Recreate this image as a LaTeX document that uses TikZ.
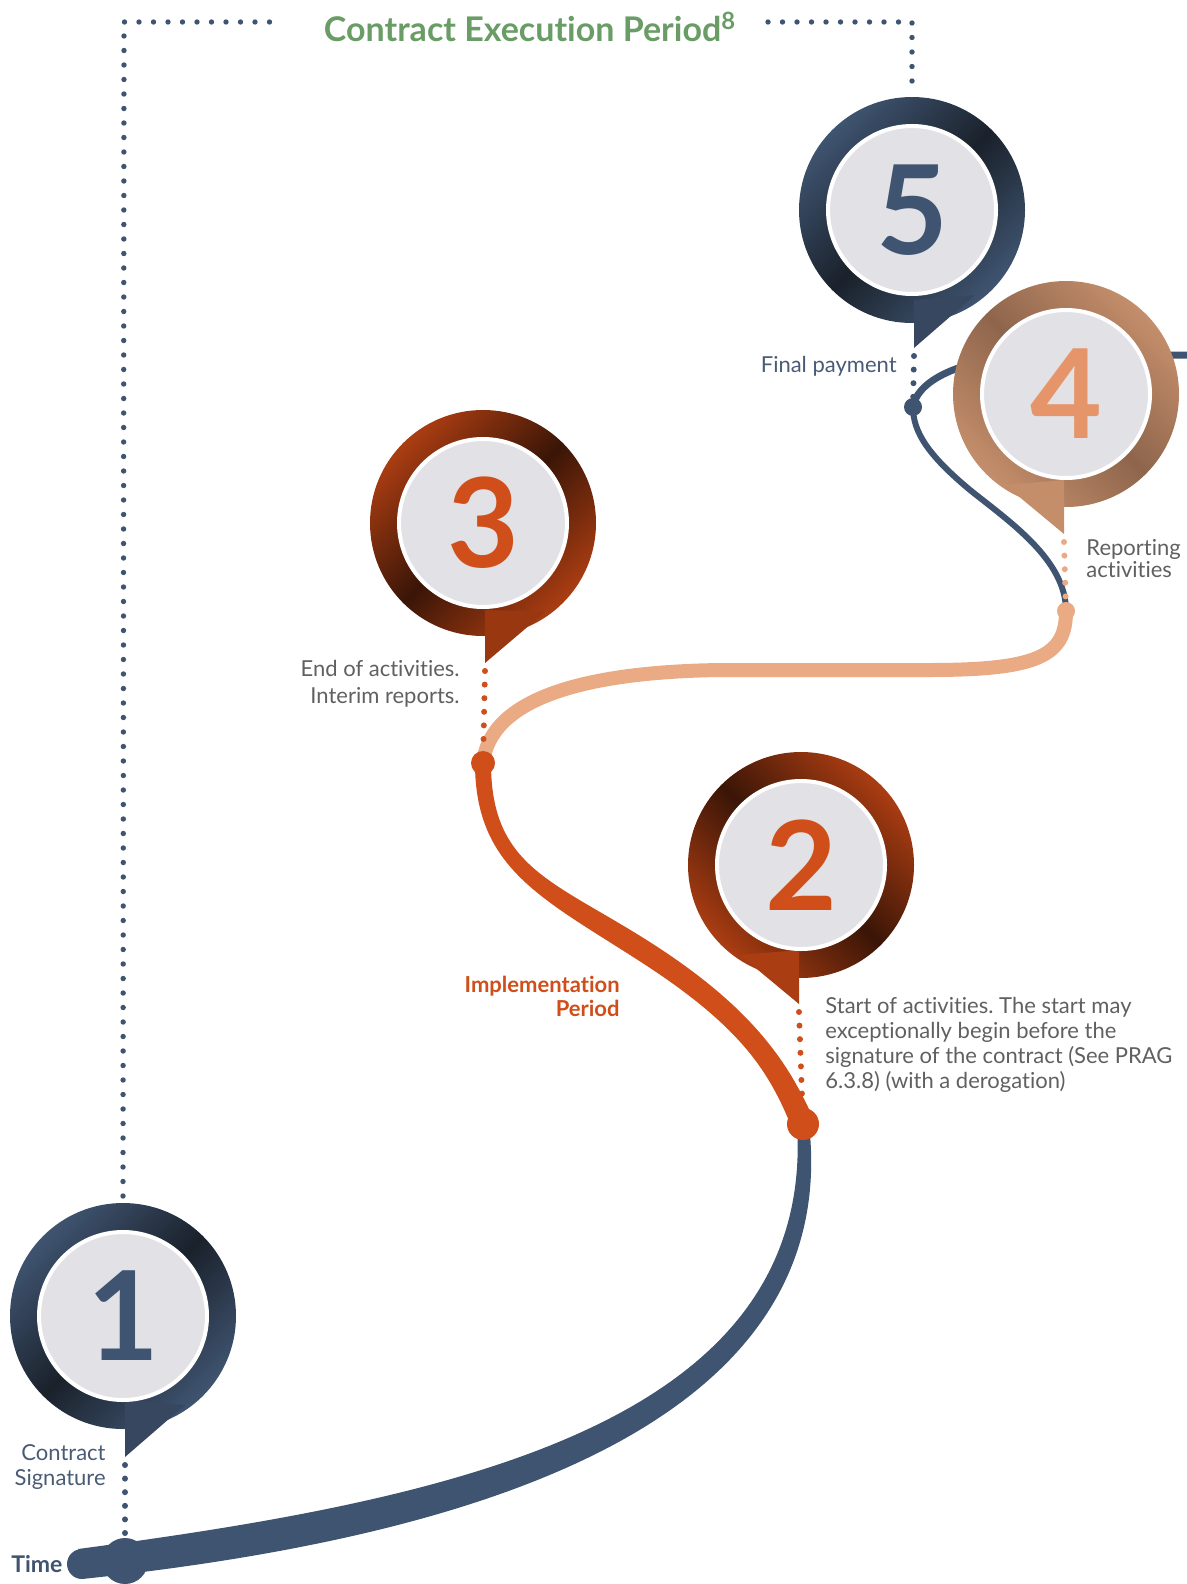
\documentclass[tikz,border=0pt]{standalone}
\usepackage{fontspec}
\setmainfont{Lato}[Ligatures=NoCommon]
\usepackage{tikz}
\usetikzlibrary{calc,backgrounds}
\usepackage{xcolor}
\frenchspacing

\definecolor{navy}{HTML}{3F5470}
\definecolor{navydark}{HTML}{1A212B}
\definecolor{navytxt}{HTML}{4A5B76}
\definecolor{rust}{HTML}{D04E1A}
\definecolor{rustring}{HTML}{AA3D12}
\definecolor{rustdark}{HTML}{3A1507}
\definecolor{tan}{HTML}{E9AA84}
\definecolor{tanring}{HTML}{C48E6B}
\definecolor{tandark}{HTML}{8E654C}
\definecolor{fourcol}{HTML}{E6956A}
\definecolor{discgray}{HTML}{E2E1E6}
\definecolor{txtgray}{HTML}{606060}
\definecolor{titlegreen}{HTML}{6A9C66}

\tikzset{
  frameline/.style={navy, line width=2.7pt, line cap=round, dash pattern=on 0pt off 7.25pt},
  leader/.style={line width=3pt, line cap=round, dash pattern=on 0pt off 6.8pt},
  disc/.style={circle, fill=discgray, draw=white, line width=2pt, minimum size=84pt, inner sep=0pt,
    font=\fontsize{62}{62}\selectfont\bfseries},
  knot/.style={circle, inner sep=0pt},
  note/.style={inner sep=0pt, text=txtgray, font=\fontsize{11}{12.5}\selectfont},
}

\begin{document}
\begin{tikzpicture}[x=0.5pt,y=-0.5pt]
  \useasboundingbox (0,0) rectangle (1187,1584);

  % centres of the pins
  \coordinate (c1) at (123,1316);
  \coordinate (c2) at (801,865);
  \coordinate (c3) at (483,523);
  \coordinate (c4) at (1066,394);
  \coordinate (c5) at (912,210);
  \coordinate (edge) at (1187,355);

  % dots on the time line
  \node[knot, fill=navy, minimum size=23pt] (t0) at (125,1561) {};
  \node[knot, fill=rust, minimum size=16pt] (d2) at (803,1124) {};
  \node[knot, fill=rust, minimum size=12pt] (d3) at (483,763) {};
  \node[knot, fill=tan, minimum size=9pt] (d4) at (1066,611) {};
  \node[knot, fill=navy, minimum size=9pt] (d5) at (913,407) {};

  % title and frame
  \node[inner sep=0pt, text=titlegreen, font=\fontsize{17}{17}\selectfont\bfseries] (title) at (530,27)
    {Contract Execution Period\textsuperscript{8}};
  \draw[frameline] ([yshift=60pt]c1) -- (124,22) -- (273,22);
  \draw[frameline] (768,22) -- (912,22) -- ([yshift=62pt]c5);

  % time line
  \begin{scope}[on background layer]
  \fill[navy] ($(t0)+(-47,-12)$) .. controls (447,1500) and (816,1426) .. ($(d2)+(-6,0)$)
    -- ($(d2)+(6,0)$) .. controls (844,1434) and (452,1540) .. ($(t0)+(-43,18)$)
    arc[start angle=270, end angle=90, radius=7.5pt] -- cycle;
  \fill[rust] ($(d2)+(11,-4)$) .. controls (790,1066) and (756,1011) .. (656,946)
    .. controls (556,881) and (491,870) .. ($(d3)+(8,0)$)
    -- ($(d3)+(-8,0)$) .. controls (475,870) and (544,899) .. (644,964)
    .. controls (744,1029) and (770,1074) .. ($(d2)+(-11,4)$) -- cycle;
  \draw[tan, line width=7pt] (d3.center) .. controls (490,700) and (580,672) .. (720,670)
    -- (930,670) .. controls (1040,670) and (1066,655) .. (d4.center);
  \draw[navy, line width=3pt] (d4.center) .. controls (1066,560) and (1010,522) .. (970,490)
    .. controls (928,455) and (913,432) .. (d5.center);
  \draw[navy, line width=3.5pt] (d5.center) .. controls (916,385) and (950,360) .. (1030,355) -- (edge);
  \end{scope}

  % pin 1
  \shade[top color=navy, bottom color=navy, middle color=navydark, shading angle=45] (c1) circle (56.5pt);
  \fill[navy!85!black] (125,1400) -- (125,1457) coordinate (t1) -- (185,1405) -- cycle;
  \node[disc, text=navy] (p1) at (c1) {1};

  % pin 2
  \shade[top color=rustring, bottom color=rustring, middle color=rustdark, shading angle=-45] (c2) circle (56.5pt);
  \fill[rustring] (799,950) -- (799,1004) coordinate (t2) -- (740,955) -- cycle;
  \node[disc, text=rust] (p2) at (c2) {2};

  % pin 3
  \shade[top color=rustring, bottom color=rustring, middle color=rustdark, shading angle=45] (c3) circle (56.5pt);
  \fill[rustring!90!black] (485,610) -- (485,663) coordinate (t3) -- (545,612) -- cycle;
  \node[disc, text=rust] (p3) at (c3) {3};

  % pin 4
  \shade[top color=tanring, bottom color=tanring, middle color=tandark, shading angle=-45] (c4) circle (56.5pt);
  \fill[tanring] (1064,480) -- (1064,534) coordinate (t4) -- (1005,485) -- cycle;
  \node[disc, text=fourcol] (p4) at (c4) {4};

  % pin 5
  \shade[top color=navy, bottom color=navy, middle color=navydark, shading angle=45] (c5) circle (56.5pt);
  \fill[navy!85!black] (914,300) -- (914,348) coordinate (t5) -- (975,295) -- cycle;
  \node[disc, text=navy] (p5) at (c5) {5};

  % dotted leaders
  \draw[leader, navy] ([yshift=-4pt]t1) -- (t0);
  \draw[leader, rust] ([yshift=-4pt]t2) -- (d2);
  \draw[leader, rust] ([yshift=-4pt]t3) -- (d3);
  \draw[leader, tan] ([yshift=-4pt]t4) -- (d4);
  \draw[leader, navy] ([yshift=-4pt]t5) -- (d5);

  % labels
  \node[note, anchor=east, text=navytxt] (lbl5) at (897,366) {Final payment};
  \node[note, anchor=west, align=left, font=\fontsize{11}{11}\selectfont] (lbl4) at (1086,559) {Reporting\\activities};
  \node[note, anchor=east, align=right, font=\fontsize{11}{13.5}\selectfont] (lbl3) at (460,684) {End of activities.\\Interim reports.};
  \node[note, anchor=west, align=left] (lbl2) at (825,1045)
    {Start of activities. The start may\\exceptionally begin before the\\signature of the contract (See PRAG\\6.3.8) (with a derogation)};
  \node[note, anchor=east, align=right, text=rust, font=\fontsize{11}{12}\selectfont\bfseries] (impl) at (620,996) {Implementation\\Period};
  \node[note, anchor=east, align=right, text=navytxt] (lbl1) at (106,1467) {Contract\\Signature};
  \node[note, anchor=west, text=navy, font=\fontsize{11.5}{12}\selectfont\bfseries] (time) at (11,1564) {Time};
\end{tikzpicture}
\end{document}
